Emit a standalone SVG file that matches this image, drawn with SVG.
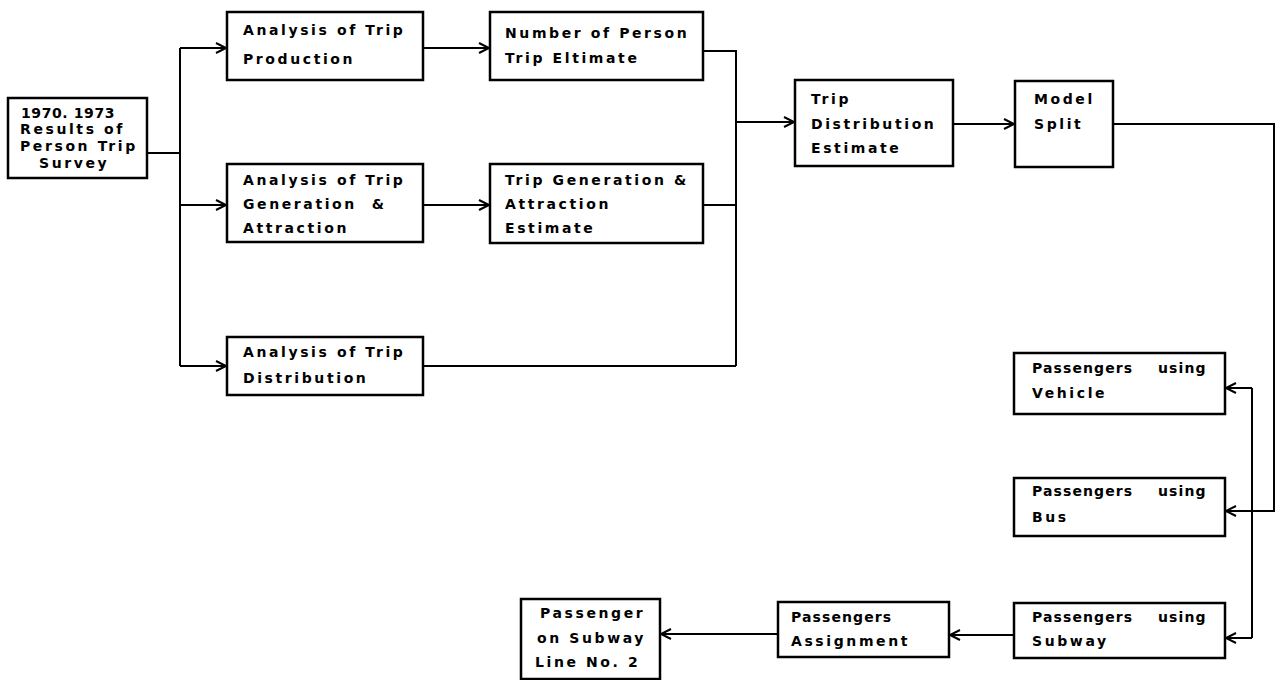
<svg xmlns="http://www.w3.org/2000/svg" width="1276" height="680" viewBox="0 0 1276 680">
<defs>
<marker id="arr" markerUnits="userSpaceOnUse" markerWidth="14" markerHeight="14" refX="11" refY="6" orient="auto">
<path d="M1,1 L11,6 L1,11" fill="none" stroke="#000" stroke-width="2"/>
</marker>
<style>
.box{fill:#fff;stroke:#000;stroke-width:2.5}
.t{font-family:"DejaVu Sans","Liberation Sans",sans-serif;font-weight:bold;font-size:14px;letter-spacing:2.6px;fill:#000}
.p{letter-spacing:1.1px}
.c{fill:none;stroke:#000;stroke-width:2}
</style>
</defs>
<rect width="1276" height="680" fill="#fff"/>
<g id="connectors">
<path class="c" d="M147,153 H180"/>
<path class="c" d="M180,48 V366"/>
<path class="c" d="M180,48 H226" marker-end="url(#arr)"/>
<path class="c" d="M180,205 H226" marker-end="url(#arr)"/>
<path class="c" d="M180,366 H226" marker-end="url(#arr)"/>
<path class="c" d="M423,48 H489" marker-end="url(#arr)"/>
<path class="c" d="M423,205 H489" marker-end="url(#arr)"/>
<path class="c" d="M703,51 H736 V366"/>
<path class="c" d="M703,205 H736"/>
<path class="c" d="M423,366 H736"/>
<path class="c" d="M736,122 H794" marker-end="url(#arr)"/>
<path class="c" d="M953,124 H1014" marker-end="url(#arr)"/>
<path class="c" d="M1113,124 H1274 V511 H1226" marker-end="url(#arr)"/>
<path class="c" d="M1252,388 V638"/>
<path class="c" d="M1252,388 H1226" marker-end="url(#arr)"/>
<path class="c" d="M1252,638 H1226" marker-end="url(#arr)"/>
<path class="c" d="M1014,635 H950" marker-end="url(#arr)"/>
<path class="c" d="M778,634 H661" marker-end="url(#arr)"/>
</g>
<g id="survey">
<rect class="box" x="8" y="98" width="139" height="80"/>
<text class="t" x="21" y="118" style="letter-spacing:0.6px">1970. 1973</text>
<text class="t" x="20" y="134">Results of</text>
<text class="t" x="20" y="151">Person Trip</text>
<text class="t" x="39" y="168">Survey</text>
</g>
<g id="trip-production">
<rect class="box" x="227" y="12" width="196" height="68"/>
<text class="t" x="243" y="35">Analysis of Trip</text>
<text class="t" x="243" y="64">Production</text>
</g>
<g id="person-trip-estimate">
<rect class="box" x="490" y="12" width="213" height="68"/>
<text class="t" x="505" y="38">Number of Person</text>
<text class="t" x="505" y="63">Trip Eltimate</text>
</g>
<g id="trip-distribution-estimate">
<rect class="box" x="795" y="80" width="158" height="86"/>
<text class="t" x="811" y="104">Trip</text>
<text class="t" x="811" y="129">Distribution</text>
<text class="t" x="811" y="153">Estimate</text>
</g>
<g id="modal-split">
<rect class="box" x="1015" y="81" width="98" height="86"/>
<text class="t" x="1034" y="104">Model</text>
<text class="t" x="1034" y="129">Split</text>
</g>
<g id="generation-analysis">
<rect class="box" x="227" y="164" width="196" height="78"/>
<text class="t" x="243" y="185">Analysis of Trip</text>
<text class="t" x="243" y="209" xml:space="preserve">Generation  &amp;</text>
<text class="t" x="243" y="233">Attraction</text>
</g>
<g id="generation-estimate">
<rect class="box" x="490" y="164" width="213" height="79"/>
<text class="t" x="505" y="185">Trip Generation &amp;</text>
<text class="t" x="505" y="209">Attraction</text>
<text class="t" x="505" y="233">Estimate</text>
</g>
<g id="distribution-analysis">
<rect class="box" x="227" y="337" width="196" height="58"/>
<text class="t" x="243" y="357">Analysis of Trip</text>
<text class="t" x="243" y="383">Distribution</text>
</g>
<g id="vehicle">
<rect class="box" x="1014" y="353" width="211" height="61"/>
<text class="t p" x="1032" y="373">Passengers <tspan x="1158">using</tspan></text>
<text class="t" x="1032" y="398">Vehicle</text>
</g>
<g id="bus">
<rect class="box" x="1014" y="478" width="211" height="58"/>
<text class="t p" x="1032" y="496">Passengers <tspan x="1158">using</tspan></text>
<text class="t" x="1032" y="522">Bus</text>
</g>
<g id="subway">
<rect class="box" x="1014" y="603" width="211" height="55"/>
<text class="t p" x="1032" y="622">Passengers <tspan x="1158">using</tspan></text>
<text class="t" x="1032" y="646">Subway</text>
</g>
<g id="assignment">
<rect class="box" x="778" y="602" width="171" height="55"/>
<text class="t p" x="791" y="622">Passengers</text>
<text class="t" x="791" y="646">Assignment</text>
</g>
<g id="line2">
<rect class="box" x="521" y="599" width="139" height="80"/>
<text class="t" x="540" y="618">Passenger</text>
<text class="t" x="537" y="643">on Subway</text>
<text class="t" x="535" y="667">Line No. 2</text>
</g>
</svg>
